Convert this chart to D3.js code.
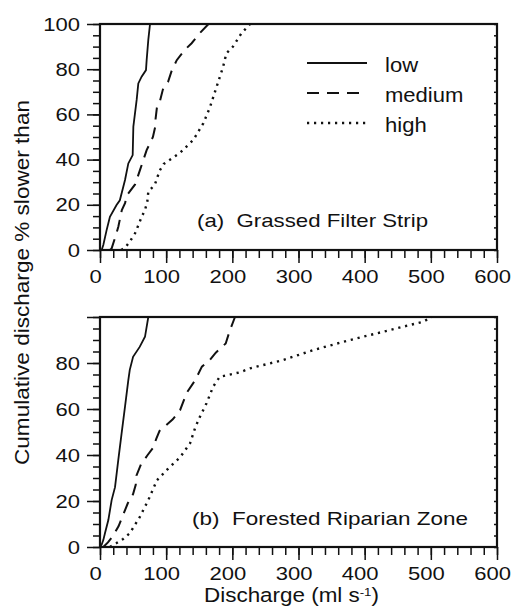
<!DOCTYPE html>
<html>
<head>
<meta charset="utf-8">
<script src="https://cdn.jsdelivr.net/npm/d3@7"></script>
<style>
  body { margin: 0; background: #fff; }
  text { font-family: "Liberation Sans", Arial, Helvetica, sans-serif; fill: #111; }
</style>
</head>
<body>
<svg id="canvas"></svg>
<script>
// cumulative discharge curves: [discharge ml/s, % slower than]
const grassedLow = [[2.5,0],[5,2.2],[10,8.8],[15,14.7],[25,19.9],[30,22],[37.8,31],[42.8,38.3],[49.4,42],[50.4,54.6],[55.4,66.4],[57.9,73.7],[62.9,76.7],[69.5,79.6],[70.5,84],[73,93],[75.6,100]];
const grassedMedium = [[15,0],[17.6,0.7],[25,7.5],[27.7,10.3],[33,17.7],[38,20.8],[40,24],[53,29],[60,35],[70.5,44.2],[80,50],[83.5,54.6],[84,58],[86,63],[90.7,66],[95,71],[103,74.5],[108,79],[116,84],[128,88.5],[138.5,91.5],[151,96],[164,100]];
const grassedHigh = [[32,0],[38,1],[45,3.7],[53,7.4],[58,11],[63,14.7],[68,17.7],[71.5,21.4],[73,25.8],[83,29],[90,35],[96,38],[121,43],[141,48.7],[156,56],[166,63],[176,72],[186,81],[191,87],[201,90],[214,96],[227,100]];

const forestLow = [[0,0],[2.5,1],[5,3],[7.5,6],[12.6,11.7],[17.6,20.4],[22.7,26],[27.7,38],[32.7,49.5],[37.8,61],[42.8,72.6],[45,77],[50,82.7],[60,87],[68,91.4],[73,100]];
const forestMedium = [[5,0],[12,2],[20,5],[28,9],[35,14],[42,19],[50,23],[54,27],[55,31],[62,36],[72,40],[80,43],[85,47],[90,50.5],[100,53],[110,55.5],[121,59.5],[131,67],[144,72.6],[154,78.4],[165,81],[175,84.5],[190,88.5],[196,94],[204,100]];
const forestHigh = [[15,0],[25,1.7],[35,3.5],[45,6],[60,13],[73,20.4],[86,29],[101,33.5],[121,39],[136,45],[144,52],[151,56.6],[161,62.5],[171,69.7],[181,74],[212,76],[227,77.7],[277,81.3],[322,85.6],[378,90],[428,93.6],[489,98],[501,100]];

const seriesNames = ['low', 'medium', 'high'];
const panelLabels = ['(a)  Grassed Filter Strip', '(b)  Forested Riparian Zone'];
const xTicks = [0, 100, 200, 300, 400, 500, 600];
const yTicks = [0, 20, 40, 60, 80, 100];

const width = 511;
const height = 612;
const ink = '#111';
const textStretch = 1.16;

const svg = d3.select('#canvas').attr('width', width).attr('height', height);

const x = d3.scaleLinear().domain([0, 600]).range([100, 497]);

const styles = {
  low: { dash: null, w: 1.8 },
  medium: { dash: '12,8', w: 2 },
  high: { dash: '2.2,4.8', w: 2.4 }
};

function drawPanel(top, bottom, data, label, labelPos, showTop) {
  const y = d3.scaleLinear().domain([0, 100]).range([bottom, top]);
  const g = svg.append('g');

  // minor ticks
  g.append('g')
    .attr('transform', `translate(0,${bottom})`)
    .call(d3.axisBottom(x).tickValues(d3.range(0, 601, 20)).tickSize(8).tickFormat(''))
    .call(a => a.select('.domain').remove());
  g.append('g')
    .attr('transform', `translate(${x(0)},0)`)
    .call(d3.axisLeft(y).tickValues(d3.range(0, 101, 5)).tickSize(7).tickFormat(''))
    .call(a => a.select('.domain').remove());
  g.append('g')
    .attr('transform', `translate(${x(600)},0)`)
    .call(d3.axisLeft(y).tickValues(d3.range(0, 101, 5)).tickSize(3).tickFormat(''))
    .call(a => a.select('.domain').remove());

  // major ticks + labels
  const xa = g.append('g')
    .attr('transform', `translate(0,${bottom})`)
    .call(d3.axisBottom(x).tickValues(xTicks).tickSize(13).tickPadding(9))
    .call(a => a.select('.domain').remove());
  const ya = g.append('g')
    .attr('transform', `translate(${x(0)},0)`)
    .call(d3.axisLeft(y).tickValues(yTicks).tickSize(13)
      .tickFormat(d => (d === 100 && !showTop) ? '' : d))
    .call(a => a.select('.domain').remove());

  g.selectAll('.tick line').attr('stroke', ink).attr('stroke-width', 1.5);
  g.selectAll('.tick text').attr('font-size', 19).attr('font-family', null)
    .attr('transform', `scale(${textStretch},1)`);
  ya.selectAll('text').attr('x', -20 / textStretch);
  xa.selectAll('text').attr('x', -5 / textStretch).attr('y', 20);

  // frame
  g.append('rect')
    .attr('x', x(0)).attr('y', top)
    .attr('width', x(600) - x(0)).attr('height', bottom - top)
    .attr('fill', 'none').attr('stroke', ink).attr('stroke-width', 2.2);

  const line = d3.line().x(d => x(d[0])).y(d => y(d[1]));
  data.forEach((s, i) => {
    const st = styles[seriesNames[i]];
    g.append('path')
      .datum(s)
      .attr('d', line)
      .attr('fill', 'none')
      .attr('stroke', ink)
      .attr('stroke-width', st.w)
      .attr('stroke-dasharray', st.dash);
  });

  g.append('text')
    .attr('x', labelPos[0]).attr('y', labelPos[1])
    .attr('font-size', 19)
    .style('white-space', 'pre')
    .attr('textLength', labelPos[2])
    .attr('lengthAdjust', 'spacingAndGlyphs')
    .text(label);

  return y;
}

drawPanel(24, 250, [grassedLow, grassedMedium, grassedHigh], panelLabels[0], [197, 227, 231], true);
drawPanel(317, 547, [forestLow, forestMedium, forestHigh], panelLabels[1], [192, 525, 276], false);

// legend
const legend = svg.append('g');
seriesNames.forEach((name, i) => {
  const ly = 63 + i * 30;
  const st = styles[name];
  legend.append('line')
    .attr('x1', 307).attr('x2', 367).attr('y1', ly).attr('y2', ly)
    .attr('stroke', ink).attr('stroke-width', st.w)
    .attr('stroke-dasharray', st.dash);
  legend.append('text')
    .attr('transform', `translate(385,${ly + 8.5}) scale(1.05,1)`)
    .attr('font-size', 21)
    .text(name);
});

// axis titles
svg.append('text')
  .attr('transform', 'translate(28.5,282.5) rotate(-90)')
  .attr('text-anchor', 'middle')
  .attr('font-size', 21)
  .attr('textLength', 365)
  .attr('lengthAdjust', 'spacingAndGlyphs')
  .text('Cumulative discharge % slower than');

const xt = svg.append('text')
  .attr('transform', `translate(291.5,602) scale(1.15,1)`)
  .attr('text-anchor', 'middle')
  .attr('font-size', 19.5);
xt.append('tspan').text('Discharge (ml s');
xt.append('tspan').attr('font-size', 11.5).attr('dy', -6.5).text('-1');
xt.append('tspan').attr('dy', 6.5).text(')');
</script>
</body>
</html>
